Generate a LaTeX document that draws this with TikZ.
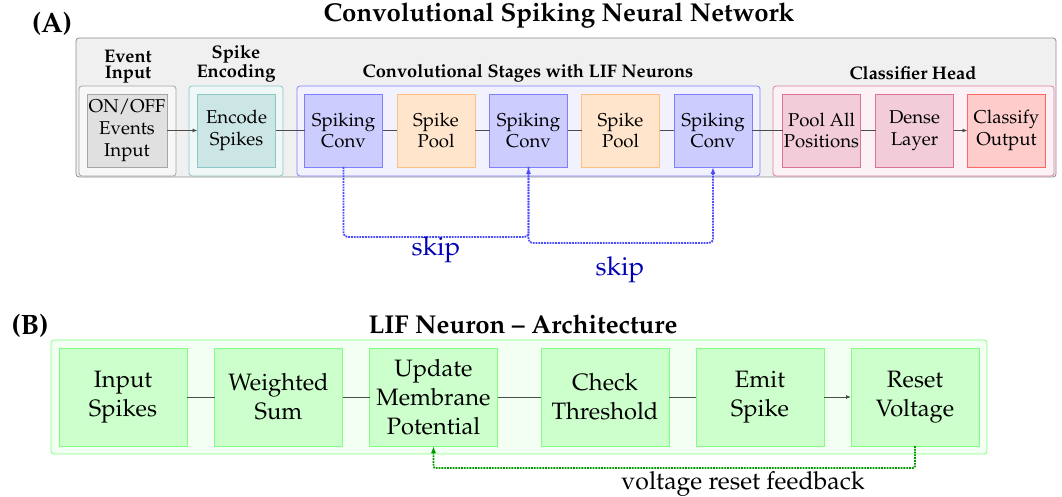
\documentclass[tikz,border=0pt]{standalone}
\usepackage[T1]{fontenc}
\usepackage{mathpazo}
\usetikzlibrary{arrows.meta}

\tikzset{
  every node/.style={inner sep=0pt, outer sep=0pt},
  frame/.style={draw, rounded corners=3pt, line width=0.8pt},
  blockA/.style={draw, line width=0.8pt, minimum width=78pt, minimum height=73pt,
    align=center, font=\fontsize{18.6}{21.7}\selectfont},
  blockB/.style={draw, line width=0.8pt, minimum width=128pt, minimum height=98pt,
    align=center, font=\fontsize{23.7}{29}\selectfont},
  grouplabel/.style={align=center, font=\bfseries\fontsize{18.2}{16}\selectfont},
  paneltag/.style={font=\bfseries\fontsize{28}{32}\selectfont},
  title/.style={font=\bfseries\fontsize{25.8}{30}\selectfont},
  link/.style={draw=black!70, line width=0.8pt},
  tip/.style={-{Latex[length=5pt,width=4pt]}},
  skippath/.style={draw=blue!70, line width=1.8pt, densely dotted, rounded corners=4pt,
    -{Latex[length=7pt,width=5pt]}},
  resetpath/.style={draw=green!60!black, line width=1.8pt, densely dotted, rounded corners=2pt,
    -{Latex[length=7pt,width=5pt]}},
  skiplabel/.style={text=blue!70!black, font=\fontsize{26}{30}\selectfont},
  convbox/.style={blockA, fill=blue!20, draw=blue!50},
  poolbox/.style={blockA, fill=orange!20, draw=orange!50},
  headbox/.style={blockA, fill=purple!20, draw=purple!55},
  lifbox/.style={blockB, fill=green!20, draw=green!50},
}

\begin{document}
\begin{tikzpicture}[x=1pt, y=-1pt]
\useasboundingbox (0,0) rectangle (1062,497);

% ---------- (A) convolutional spiking network ----------
\node[paneltag] (tagA) at (52,24) {(A)};
\node[title] (titleA) at (559,15) {Convolutional Spiking Neural Network};

\node[frame, fill=black!6, draw=black!45, minimum width=980pt, minimum height=139pt] (outerA) at (566,107.5) {};

\node[frame, fill=black!3, draw=black!35, minimum width=97pt, minimum height=90pt] (gEvent) at (127.5,131) {};
\node[frame, fill=teal!6, draw=teal!45, minimum width=94pt, minimum height=90pt] (gEnc) at (236,131) {};
\node[frame, fill=blue!5, draw=blue!50, minimum width=463pt, minimum height=90pt] (gConv) at (528.5,131) {};
\node[frame, fill=purple!5, draw=purple!50, minimum width=281pt, minimum height=90pt] (gHead) at (913.5,131) {};

\node[grouplabel] (lEvent) at (128,66.5) {Event\\Input};
\node[grouplabel] (lEnc) at (236,63.5) {Spike\\Encoding};
\node[grouplabel] (lConv) at (528,73) {Convolutional Stages with LIF Neurons};
\node[grouplabel] (lHead) at (913,73) {Classifier Head};

\node[blockA, fill=black!12, draw=black!35, minimum width=80pt] (events) at (127,130.5) {ON/OFF\\Events\\Input};
\node[blockA, fill=teal!20, draw=teal!45] (encode) at (236.5,130.5) {Encode\\Spikes};
\node[convbox] (conv1) at (343.5,130.5) {Spiking\\Conv};
\node[poolbox] (pool1) at (436,130.5) {Spike\\Pool};
\node[convbox] (conv2) at (528.5,130.5) {Spiking\\Conv};
\node[poolbox] (pool2) at (620.5,130.5) {Spike\\Pool};
\node[convbox] (conv3) at (713,130.5) {Spiking\\Conv};
\node[headbox] (poolall) at (821.5,130.5) {Pool All\\Positions};
\node[headbox] (dense) at (914.5,130.5) {Dense\\Layer};
\node[blockA, fill=red!20, draw=red!60] (classify) at (1006.5,130.5) {Classify\\Output};

\draw[link, tip] (events) -- (encode);
\draw[link] (encode) -- (conv1);
\draw[link] (conv1) -- (pool1);
\draw[link] (pool1) -- (conv2);
\draw[link] (conv2) -- (pool2);
\draw[link] (pool2) -- (conv3);
\draw[link] (conv3) -- (poolall);
\draw[link] (poolall) -- (dense);
\draw[link, tip] (dense) -- (classify);

\draw[skippath] (conv1.south) -- ++(0,70) -| (conv2.south);
\draw[skippath] (conv2.south) -- ++(0,76) -| (conv3.south);
\node[skiplabel] (skipA) at (436,250) {skip};
\node[skiplabel] (skipB) at (620,270) {skip};

% ---------- (B) LIF neuron ----------
\node[paneltag] (tagB) at (30,326) {(B)};
\node[title] (titleB) at (523,324) {LIF Neuron -- Architecture};

\node[frame, fill=green!5, draw=green!50, minimum width=936pt, minimum height=114pt] (outerB) at (519,397) {};

\node[lifbox] (input) at (123,397) {Input\\Spikes};
\node[lifbox] (wsum) at (278.5,397) {Weighted\\Sum};
\node[lifbox] (update) at (433.5,397) {Update\\Membrane\\Potential};
\node[lifbox] (check) at (605,397) {Check\\Threshold};
\node[lifbox] (emit) at (760,397) {Emit\\Spike};
\node[lifbox] (reset) at (915,397) {Reset\\Voltage};

\draw[link] (input) -- (wsum);
\draw[link] (wsum) -- (update);
\draw[link] (update) -- (check);
\draw[link] (check) -- (emit);
\draw[link, tip] (emit) -- (reset);

\draw[resetpath] (reset.south) -- ++(0,22) -| (update.south);
\node[font=\fontsize{24.8}{29}\selectfont] (fbLabel) at (743,484) {voltage reset feedback};

\end{tikzpicture}
\end{document}
